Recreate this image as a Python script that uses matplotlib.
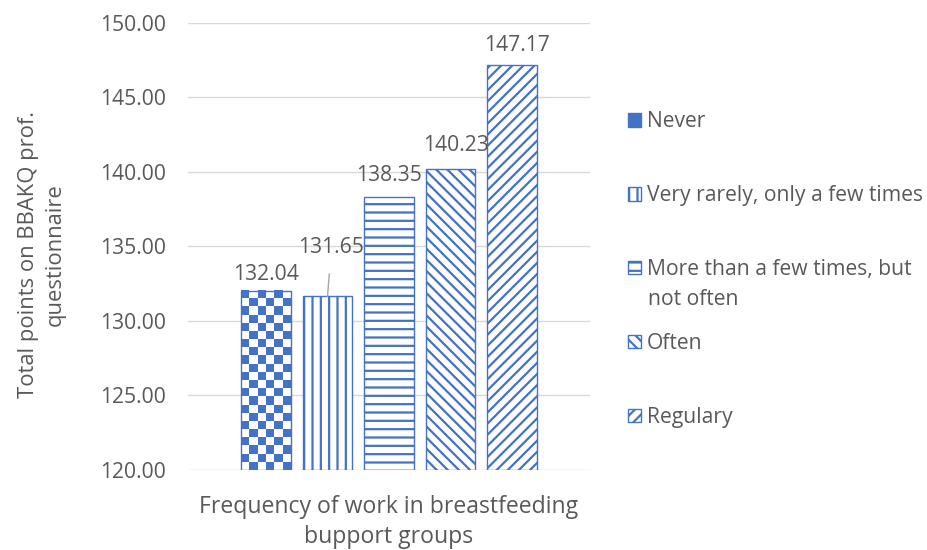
import numpy as np
import matplotlib
matplotlib.use("Agg")
import matplotlib.pyplot as plt
from matplotlib.colors import ListedColormap
from matplotlib.patches import Patch
from matplotlib.legend import Legend

plt.rcParams['font.family'] = ['Open Sans', 'DejaVu Sans']
plt.rcParams['hatch.linewidth'] = 1.6

categories = ['Never', 'Very rarely, only a few times',
              'More than a few times, but\nnot often', 'Often', 'Regulary']
values = [132.04, 131.65, 138.35, 140.23, 147.17]
hatches = [None, '||', '--', '\\\\\\', '///']
yticks = [120, 125, 130, 135, 140, 145, 150]

BLUE = '#4472C4'
GREY = '#595959'
ymin, ymax = 120, 150
FS = 15.2

fig = plt.figure(figsize=(9.28, 5.5), dpi=100)
ax = fig.add_axes([0.2026, 0.1455, 0.4332, 0.8127])

x = np.arange(len(values))
w = 0.8
for i, v in enumerate(values):
    if hatches[i] is None:
        # checkerboard fill, excel style
        nrows = int(round((v - ymin) / 0.55))
        pat = np.indices((nrows, 6)).sum(axis=0) % 2
        ax.imshow(pat, extent=(x[i] - w / 2, x[i] + w / 2, ymin, v), aspect='auto',
                  cmap=ListedColormap(['white', BLUE]), interpolation='nearest',
                  origin='lower', zorder=2)
        ax.bar(x[i], v - ymin, bottom=ymin, width=w, facecolor='none',
               edgecolor=BLUE, linewidth=1.0, zorder=3)
    else:
        ax.bar(x[i], v - ymin, bottom=ymin, width=w, facecolor='white',
               edgecolor=BLUE, hatch=hatches[i], linewidth=1.0, zorder=3)

# data labels
offs = [(0, 1.1), None, (0, 1.4), (0.09, 1.55), (0.08, 1.3)]
for i, v in enumerate(values):
    if i == 1:
        ax.annotate(f'{v:.2f}', xy=(x[i], v), xytext=(x[i] + 0.06, v + 3.25),
                    ha='center', va='center', fontsize=FS, color=GREY,
                    arrowprops=dict(arrowstyle='-', color='#A6A6A6', lw=1,
                                    shrinkA=9, shrinkB=0))
    else:
        dx, dy = offs[i]
        ax.text(x[i] + dx, v + dy, f'{v:.2f}', ha='center', va='center',
                fontsize=FS, color=GREY)

ax.set_xlim(-1.27, 5.27)
ax.set_ylim(ymin, ymax)
ax.set_yticks(yticks)
ax.set_yticklabels([f'{t:.2f}' for t in yticks], fontsize=FS, color=GREY)
ax.set_xticks([])
ax.tick_params(axis='y', length=0, pad=16)
ax.grid(axis='y', color='#D9D9D9', linewidth=1)
ax.set_axisbelow(True)
for s in ax.spines.values():
    s.set_visible(False)

ax.set_xlabel('Frequency of work in breastfeeding\nbupport groups', fontsize=16.6,
              color=GREY, labelpad=18, linespacing=1.34)
ax.set_ylabel('Total points on BBAKQ prof.\nquestionnaire', fontsize=15.8,
              color=GREY, linespacing=1.38)
ax.yaxis.set_label_coords(-0.303, 0.482)

# legend: one entry per box so the first lines sit evenly spaced like excel
for k, lab in enumerate(categories):
    h = hatches[k]
    if h is None:
        hd = Patch(facecolor=BLUE, edgecolor=BLUE, linewidth=1)
    else:
        hd = Patch(facecolor='white', edgecolor=BLUE, hatch=h, linewidth=1)
    lines = lab.split('\n')
    ytop = 0.8025 - k * 0.1655
    lg = Legend(ax, [hd], [lines[0]], loc='upper left', bbox_to_anchor=(1.0945, ytop),
                frameon=False, fontsize=FS, handlelength=0.6, handleheight=0.6,
                handletextpad=0.3, labelcolor=GREY, borderpad=0, borderaxespad=0)
    ax.add_artist(lg)
    for j, extra in enumerate(lines[1:]):
        ax.text(1.144, ytop - 0.067 * (j + 1), extra, transform=ax.transAxes,
                ha='left', va='top', fontsize=FS, color=GREY)

fig.savefig('out.png', dpi=100)
